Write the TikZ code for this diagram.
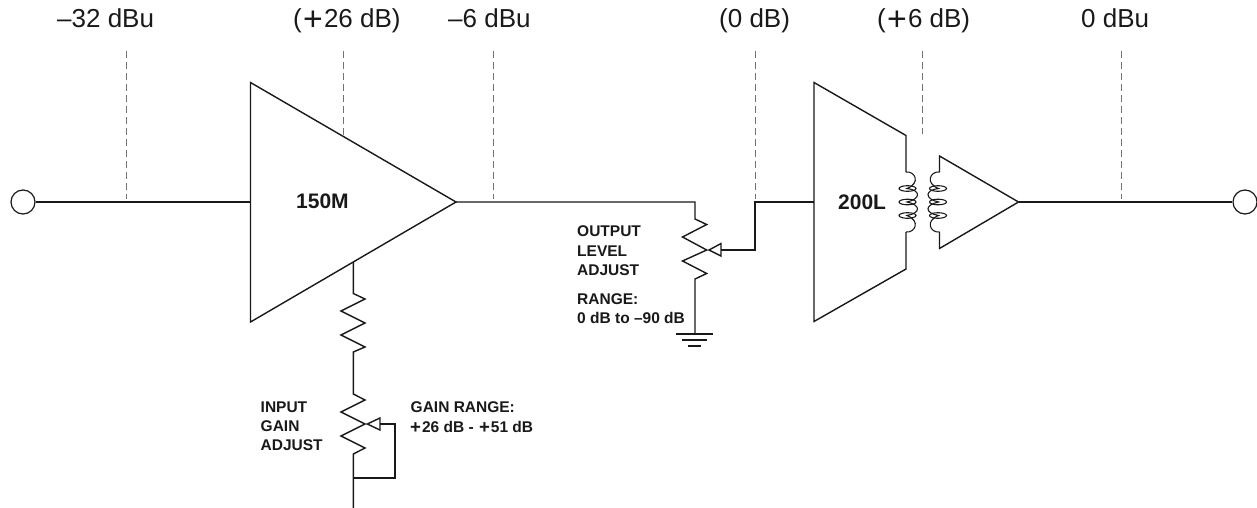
\documentclass[tikz,border=0pt]{standalone}
\usepackage{fontspec}
\usepackage{graphicx}
\setmainfont{Liberation Sans}
\newcommand{\lvlfont}{\fontsize{26}{26}\selectfont}
\newcommand{\midb}{\fontsize{21}{21}\selectfont\bfseries}
\newcommand{\smallb}{\fontsize{15.5}{15.5}\selectfont\bfseries}
\newcommand{\lplus}{\kern1.2pt\raisebox{-2.8pt}{\scalebox{1.3}{+}}\kern1.2pt}
\newcommand{\splus}{\kern1pt\raisebox{-1pt}{\scalebox{1.2}{+}}\kern1pt}
\tikzset{
  wire/.style={draw=black!90,line width=1.4pt,line join=miter},
  coilw/.style={draw=black!90,line width=1.1pt},
  probe/.style={draw=black!55,line width=1pt,dash pattern=on 7pt off 4pt},
  level/.style={anchor=base west,inner sep=0pt,text=black!90,font=\lvlfont},
  devname/.style={anchor=base west,inner sep=0pt,text=black!90,font=\midb},
  note/.style={anchor=base west,inner sep=0pt,text=black!90,font=\smallb},
  jack/.style={circle,draw=black!90,line width=1.2pt,fill=white,minimum size=24pt,inner sep=0pt},
}
\begin{document}
\begin{tikzpicture}[x=1pt,y=-1pt]
\useasboundingbox (0,0) rectangle (1257,508);
% connectors
\node[jack] (in) at (23,202) {};
\node[jack] (out) at (1245,202) {};
\coordinate (a1t) at (250.5,82.5);
\coordinate (a1b) at (250.5,322);
\coordinate (a1o) at (456,202);
\coordinate (a1i) at (250.5,202);
\draw[wire] (in) -- (a1i);
\draw[wire] (a1t) -- (a1o) -- (a1b) -- cycle;
% labels
\node[level] at (57,28) {–32 dBu};
\node[level] at (293,28) {(\lplus 26 dB)};
\node[level] at (448,28) {–6 dBu};
\node[level] at (719,28) {(0 dB)};
\node[level] at (877,28) {(\lplus 6 dB)};
\node[level] at (1081,28) {0 dBu};
% probes
\draw[probe] (126,51) -- (126,199);
\draw[probe] (343.3,51) -- (343.3,135);
\draw[probe] (493,51) -- (493,199);
\draw[probe] (755,51) -- (755,199);
\draw[probe] (922,51) -- (922,134);
\draw[probe] (1121,51) -- (1121,199);
% output pot
\coordinate (pot) at (695,202);
\draw[wire] (a1o) -- (pot) -- (695,219) -- (706.7,224.5) -- (682.5,237) -- (706.7,250) -- (682.5,261) -- (706.7,273.5) -- (695,279) -- (695,334);
\draw[wire] (676,334) -- (713,334);
\draw[wire] (682,340) -- (707,340);
\draw[wire] (688,346) -- (701,346);
\draw[wire] (709,250) -- (721,243.5) -- (721,256) -- cycle;
\coordinate (t2i) at (814,202);
\draw[wire] (721,250) -- (755,250) -- (755,202) -- (t2i);
% gain chain
\draw[wire] (353.3,262) -- (353.3,293.5) -- (365,299) -- (341,311) -- (365,323) -- (341,335) -- (365,347) -- (353.3,352) -- (353.3,394) -- (365,400) -- (341,412) -- (365,424) -- (341,436) -- (365,448) -- (353.3,454) -- (353.3,508);
\draw[wire] (367.3,424) -- (380,418) -- (380,430) -- cycle;
\draw[wire] (380,424) -- (395,424) -- (395,478) -- (353.3,478);
% transformer
\draw[wire] (906,172) -- (906,135.5) -- (814,82.5) -- (814,321.5) -- (906,269) -- (906,232);
\draw[wire] (939.5,172) -- (939.5,156) -- (1018.5,202) -- (939.5,248.5) -- (939.5,232);
\draw[coilw] (906,172) .. controls (915,171) and (921,183) .. (907,188.5)
  .. controls (921,190) and (921,199) .. (907,202)
  .. controls (921,205) and (921,213) .. (907,215.5)
  .. controls (921,221) and (915,233) .. (906,232);
\draw[coilw] (939.5,172) .. controls (930.5,171) and (924.5,183) .. (938.5,188.5)
  .. controls (924.5,190) and (924.5,199) .. (938.5,202)
  .. controls (924.5,205) and (924.5,213) .. (938.5,215.5)
  .. controls (924.5,221) and (930.5,233) .. (939.5,232);
\foreach \yy in {188.5,202,215.5}{
  \draw[coilw] (907.5,\yy) ellipse [x radius=8.5pt,y radius=2.8pt];
  \draw[coilw] (938,\yy) ellipse [x radius=8.5pt,y radius=2.8pt];
}
\draw[wire] (1018.5,202) -- (out);
% text
\node[devname] at (296,208) {150M};
\node[devname] at (838,209) {200L};
\node[note] at (260.5,412) {INPUT};
\node[note] at (260.5,431) {GAIN};
\node[note] at (260.5,450.5) {ADJUST};
\node[note] at (410.5,412) {GAIN RANGE:};
\node[note] at (409,432) {\splus 26 dB - \splus 51 dB};
\node[note] at (577,236.5) {OUTPUT};
\node[note] at (577,256) {LEVEL};
\node[note] at (577,275.5) {ADJUST};
\node[note] at (577,304) {RANGE:};
\node[note] at (577,323) {0 dB to –90 dB};
\end{tikzpicture}
\end{document}
